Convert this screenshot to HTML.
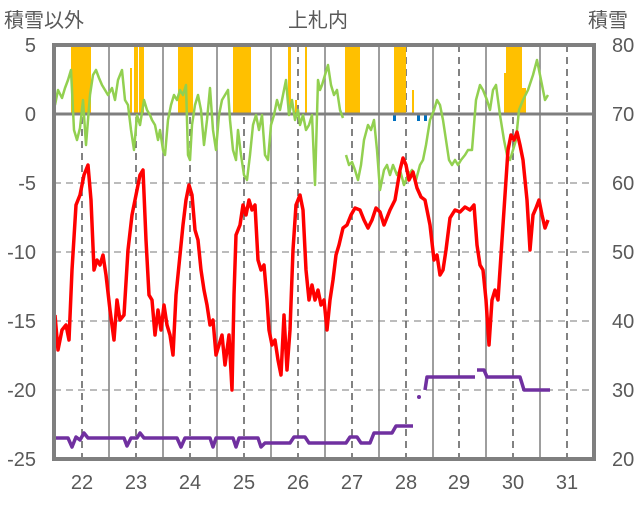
<!DOCTYPE html><html><head><meta charset="utf-8"><style>
body{margin:0;background:#fff;}
text{font-family:"Liberation Sans","Noto Sans CJK JP",sans-serif;fill:#595959;}
</style></head><body>
<svg width="636" height="501" xmlns="http://www.w3.org/2000/svg">
<g font-size="20">
<text x="4" y="27">積雪以外</text>
<text x="318" y="27" text-anchor="middle">上札内</text>
<text x="588" y="27">積雪</text>
<g text-anchor="end">
<text x="36" y="52">5</text><text x="36" y="121">0</text><text x="36" y="190">-5</text>
<text x="36" y="259">-10</text><text x="36" y="328">-15</text><text x="36" y="397">-20</text><text x="36" y="466">-25</text>
</g>
<g>
<text x="612" y="52">80</text><text x="612" y="121">70</text><text x="612" y="190">60</text>
<text x="612" y="259">50</text><text x="612" y="328">40</text><text x="612" y="397">30</text><text x="612" y="466">20</text>
</g>
<g text-anchor="middle">
<text x="82" y="489">22</text><text x="136" y="489">23</text><text x="190" y="489">24</text><text x="244" y="489">25</text><text x="298" y="489">26</text><text x="352" y="489">27</text><text x="406" y="489">28</text><text x="459" y="489">29</text><text x="513" y="489">30</text><text x="567" y="489">31</text>
</g></g>
<g stroke="#a6a6a6" stroke-width="1.5" stroke-dasharray="7,5">
<line x1="54" y1="183" x2="594" y2="183"/><line x1="54" y1="252" x2="594" y2="252"/><line x1="54" y1="321" x2="594" y2="321"/><line x1="54" y1="390" x2="594" y2="390"/>
</g>
<g stroke="#595959" stroke-width="1.5" stroke-dasharray="7,5">
<line x1="82" y1="45" x2="82" y2="459"/><line x1="136" y1="45" x2="136" y2="459"/><line x1="190" y1="45" x2="190" y2="459"/><line x1="244" y1="45" x2="244" y2="459"/><line x1="298" y1="45" x2="298" y2="459"/><line x1="352" y1="45" x2="352" y2="459"/><line x1="406" y1="45" x2="406" y2="459"/><line x1="459" y1="45" x2="459" y2="459"/><line x1="513" y1="45" x2="513" y2="459"/><line x1="567" y1="45" x2="567" y2="459"/>
</g>
<g stroke="#7f7f7f" stroke-width="1.5">
<line x1="109" y1="45" x2="109" y2="459"/><line x1="163" y1="45" x2="163" y2="459"/><line x1="217" y1="45" x2="217" y2="459"/><line x1="271" y1="45" x2="271" y2="459"/><line x1="325" y1="45" x2="325" y2="459"/><line x1="379" y1="45" x2="379" y2="459"/><line x1="433" y1="45" x2="433" y2="459"/><line x1="486" y1="45" x2="486" y2="459"/><line x1="540" y1="45" x2="540" y2="459"/>
</g>
<g fill="#ffc000">
<rect x="71" y="45" width="20" height="69"/><rect x="130" y="68" width="2" height="46"/><rect x="134" y="45" width="4" height="69"/><rect x="139" y="45" width="5" height="69"/>
<rect x="178" y="45" width="15" height="69"/><rect x="233" y="45" width="18" height="69"/><rect x="288" y="45" width="3" height="69"/><rect x="295" y="100" width="2" height="14"/><rect x="305" y="45" width="2" height="69"/>
<rect x="345" y="45" width="15" height="69"/><rect x="394" y="45" width="12" height="69"/><rect x="412" y="90" width="2" height="24"/>
<rect x="504" y="73" width="4" height="41"/><rect x="506" y="45" width="16" height="69"/><rect x="522" y="88" width="4" height="26"/>
</g>
<g fill="#0070c0"><rect x="393" y="114" width="3" height="7"/><rect x="417" y="114" width="3" height="7"/><rect x="424" y="114" width="3" height="7"/></g>
<line x1="54" y1="114" x2="594" y2="114" stroke="#7f7f7f" stroke-width="3"/>
<g fill="none" stroke="#92d050" stroke-width="2.5" stroke-linejoin="round">
<polyline points="55,105 58,90 62,98 65,88 68,80 71,70 74,130 77,140 80,128 83,100 86,145 88,120 90,95 93,75 96,70 99,78 102,85 105,90 108,95 112,88 115,100 118,80 122,70 125,100 128,105 131,130 134,150 137,115 140,125 144,100 147,110 150,115 152,120 155,125 158,140 160,130 163,150 165,155 168,120 171,105 174,95 177,100 180,90 183,95 186,85 188,155 190,160 192,125 195,105 198,95 201,110 204,145 207,120 210,88 213,130 216,150 219,115 222,100 225,95 228,90 230,120 233,150 236,160 238,130 241,155 244,175 247,180 250,155 253,125 256,115 259,130 262,115 265,155 268,160 271,125 274,115 277,100 280,110 283,95 286,80 289,115 292,100 295,120 298,110 300,125 303,115 306,130 309,125 312,115 315,185 318,80 320,90 322,85 325,75 328,65 331,85 334,95 337,90 340,110 343,118"/>
<polyline points="346,155 349,165 352,162 355,170 358,180 361,165 364,140 368,125 371,130 374,120 377,150 380,190 384,170 387,165 390,175 393,165 397,175 400,170 404,185 408,175 412,170 416,180 420,165 423,160 426,145 430,120 434,110 437,100 440,105 443,120 446,140 449,160 452,165 455,160 458,165 461,160 465,155 468,150 472,150 476,100 480,85 483,90 487,100 490,110 493,90 496,85 500,115 504,140 507,155 510,160 513,150 516,140 519,110 523,100 528,90 533,75 537,60 541,80 545,100 548,95"/>
</g>
<polyline fill="none" stroke="#ff0000" stroke-width="3.5" stroke-linejoin="round" points="55,315 58,350 62,330 66,325 69,340 72,270 76,205 80,195 84,175 88,165 91,200 94,270 97,260 100,265 103,255 106,275 110,310 114,340 117,300 120,320 124,315 128,250 132,215 136,195 140,175 143,170 146,240 149,295 152,300 155,335 158,310 161,330 164,305 167,325 170,335 173,355 176,295 180,255 183,225 186,200 189,185 192,195 195,230 198,240 201,270 204,290 207,305 210,325 213,320 216,355 219,345 222,335 225,365 229,335 232,390 234,295 236,235 240,225 243,205 246,215 249,200 252,210 255,205 258,260 261,270 264,265 267,300 269,330 272,345 275,340 278,360 281,375 284,315 287,370 290,330 293,250 296,205 300,195 303,210 306,270 309,300 312,285 315,300 318,290 321,305 324,300 327,330 330,300 333,280 336,255 339,245 343,228 347,225 351,215 355,208 360,210 364,220 368,228 372,220 376,208 380,212 384,225 390,210 395,200 400,170 403,158 406,165 409,180 413,172 417,188 421,197 425,200 430,225 434,260 437,255 440,275 443,270 446,250 450,218 455,210 460,212 465,207 470,210 474,205 477,245 480,265 483,270 486,300 489,345 492,300 495,290 498,300 501,255 505,195 508,150 511,135 514,140 517,132 520,145 523,160 527,200 530,250 533,215 536,208 539,200 542,215 545,228 548,220"/>
<g fill="none" stroke="#7030a0" stroke-width="3.5" stroke-linejoin="round">
<polyline points="54,438 68,438 72,447 76,437 80,440 84,433 88,438 124,438 127,446 131,438 137,438 140,433 144,438 177,438 181,447 185,438 210,438 213,447 216,438 233,438 236,447 239,438 258,438 261,447 265,443 290,443 294,437 305,437 309,443 346,443 350,437 357,437 361,443 370,443 374,433 392,433 396,426 413,426"/>
<polyline points="425,390 427,377 475,377"/>
<polyline points="477,370 484,370 487,377 520,377 524,390 550,390"/>
</g>
<circle cx="419" cy="397" r="2" fill="#7030a0"/>
<rect x="54" y="45" width="540" height="414" fill="none" stroke="#7f7f7f" stroke-width="4"/>
</svg>
</body></html>
